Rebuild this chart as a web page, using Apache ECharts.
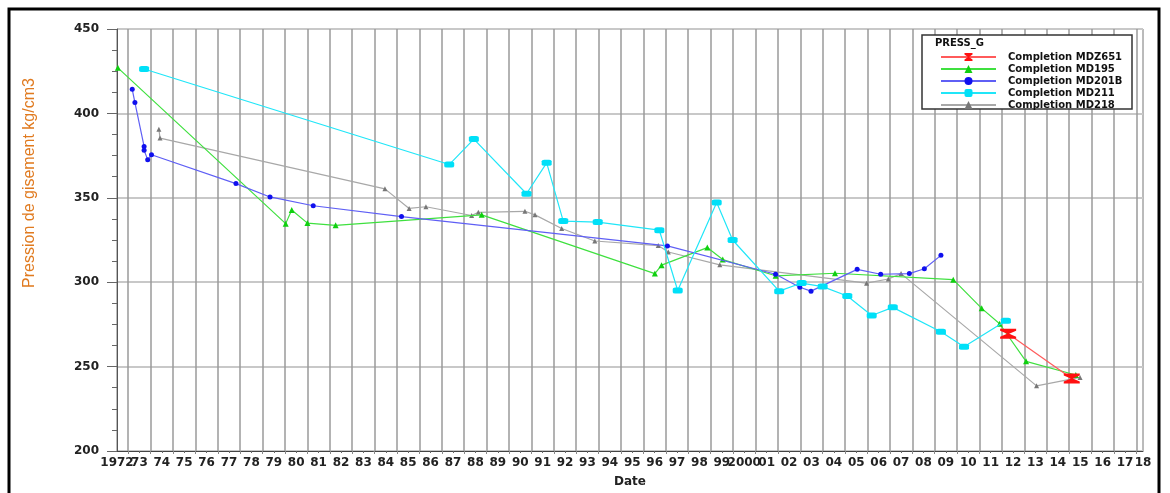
<!DOCTYPE html>
<html>
<head>
<meta charset="utf-8">
<script src="https://cdn.jsdelivr.net/npm/echarts@6/dist/echarts.min.js"></script>
<style>
html,body{margin:0;padding:0;background:#fff;}
#chart{width:1170px;height:493px;}
</style>
</head>
<body>
<div id="chart"></div>
<script>
// ---- data ----
const tickLabels = ["1972","73","74","75","76","77","78","79","80","81","82","83","84","85","86","87","88","89","90","91","92","93","94","95","96","97","98","99","2000","01","02","03","04","05","06","07","08","09","10","11","12","13","14","15","16","17","18"];
const yTicks = [200, 250, 300, 350, 400, 450];

const seriesNames = ["Completion MDZ651","Completion MD195","Completion MD201B","Completion MD211","Completion MD218"];

const mdz651 = [[2012.28, 269.4], [2015.12, 243]];
const md195 = [[1972.54, 427], [1980.03, 334.7], [1980.3, 342.8], [1981.0, 335], [1982.26, 333.7], [1988.78, 339.9], [1996.51, 305.1], [1996.81, 310.1], [1998.85, 320.5], [1999.54, 313.4], [2001.9, 303.8], [2004.55, 305.3], [2009.83, 301.5], [2011.1, 284.5], [2011.9, 275.4], [2013.08, 253.1], [2015.3, 245]];
const md201b = [[1973.18, 414.3], [1973.3, 406.4], [1973.71, 380.4], [1973.71, 378.1], [1973.87, 372.6], [1974.04, 375.5], [1977.81, 358.4], [1979.33, 350.5], [1981.26, 345.3], [1985.2, 338.9], [1997.07, 321.5], [2001.9, 304.7], [2002.98, 297], [2003.48, 294.7], [2005.54, 307.6], [2006.59, 304.7], [2007.87, 305.1], [2008.54, 308], [2009.28, 315.9]];
const md211 = [[1973.71, 426.3], [1987.33, 369.7], [1988.43, 384.8], [1990.78, 352.4], [1991.68, 370.7], [1992.42, 336.2], [1993.96, 335.6], [1996.71, 330.8], [1997.53, 295.1], [1999.27, 347.2], [1999.98, 325], [2002.06, 294.7], [2003.06, 299.5], [2004.0, 297.4], [2005.1, 291.8], [2006.19, 280.3], [2007.13, 285.1], [2009.28, 270.6], [2010.31, 261.7], [2012.18, 277.1]];
const md218 = [[1974.37, 390.6], [1974.42, 385.4], [1984.46, 355.3], [1985.54, 343.7], [1986.29, 344.7], [1988.33, 339.5], [1988.63, 341.4], [1990.71, 342], [1991.16, 339.9], [1992.35, 331.8], [1993.83, 324.4], [1996.66, 321.7], [1997.11, 317.9], [1999.41, 310.3], [2005.96, 299.4], [2006.93, 301.9], [2007.5, 305.1], [2013.55, 238.6], [2015.49, 243.6]];

// ---- axis setup ----
const xMin = 1972.5, xMax = 2018.3;
const gridYears = [];
for (let y = 1973; y <= 2018; y++) gridYears.push(y);
const labelPos = tickLabels.map((_, i) => Math.min(1972.5 + i, xMax));
const midYears = tickLabels.map((_, i) => 1972.5 + i).filter(v => v > xMin && v < xMax);
const labelFmt = v => tickLabels[Math.round(v - 1972.5)];

const chart = echarts.init(document.getElementById('chart'));
const hourglass = 'path://M0,0 L16,0 L16,2 L9,5 L16,8 L16,10 L0,10 L0,8 L7,5 L0,2 Z';

function mk(name, data, lineColor, symColor, symbol, size, z) {
  return {
    name: name, type: 'line', data: data,
    symbol: symbol, symbolSize: size, showSymbol: true,
    lineStyle: {color: lineColor, width: 1.2},
    itemStyle: {color: symColor, borderWidth: 0},
    emphasis: {disabled: true},
    animation: false, z: z
  };
}

const tickFont = {fontFamily: 'DejaVu Sans', fontWeight: 'bold', fontSize: 12, color: '#222'};

chart.setOption({
  animation: false,
  backgroundColor: '#fff',
  grid: {left: 117, right: 27, top: 29, bottom: 32, show: true, borderColor: '#777', borderWidth: 1},
  legend: {
    orient: 'vertical', left: 935, top: 47, itemWidth: 55, itemHeight: 10, itemGap: 2,
    data: seriesNames, z: 20,
    textStyle: {fontFamily: 'DejaVu Sans', fontWeight: 'bold', fontSize: 10, color: '#111', padding: [0, 0, 0, 7]},
    selectedMode: false
  },
  xAxis: [{
    type: 'value', min: xMin, max: xMax,
    name: 'Date', nameLocation: 'middle', nameGap: 25,
    nameTextStyle: {fontFamily: 'DejaVu Sans', fontWeight: 'bold', fontSize: 12, color: '#222'},
    axisLine: {show: true, lineStyle: {color: '#444', width: 1}},
    axisTick: {show: true, customValues: gridYears, length: 3, lineStyle: {color: '#888'}},
    axisLabel: {show: true, customValues: labelPos.slice(1), margin: 6, showMaxLabel: true, ...tickFont, formatter: labelFmt},
    splitLine: {show: true, lineStyle: {color: '#9a9a9a', width: 1.5}}
  }, {
    type: 'value', min: xMin, max: xMax, position: 'bottom',
    axisLine: {show: false},
    axisTick: {show: true, customValues: midYears, length: 2, lineStyle: {color: '#666'}},
    axisLabel: {show: true, customValues: labelPos.slice(0, 1), margin: 6, showMinLabel: true, ...tickFont, formatter: labelFmt},
    splitLine: {show: false}
  }],
  yAxis: {
    type: 'value', min: 200, max: 450, interval: 50,
    axisLine: {show: true, lineStyle: {color: '#555', width: 1}},
    axisTick: {show: true, length: 10, lineStyle: {color: '#666'}},
    minorTick: {show: true, splitNumber: 4, length: 5, lineStyle: {color: '#666'}},
    axisLabel: {margin: 18, ...tickFont, formatter: v => yTicks.includes(v) ? String(v) : ''},
    splitLine: {show: true, lineStyle: {color: '#c8c8c8', width: 2}}
  },
  graphic: [
    {type: 'rect', z: 100, shape: {x: 9, y: 9, width: 1150, height: 492}, style: {fill: 'none', stroke: '#000', lineWidth: 3}},
    {type: 'rect', z: 10, shape: {x: 922, y: 35, width: 210, height: 74}, style: {fill: '#fff', stroke: '#333', lineWidth: 1.5}},
    {type: 'text', z: 11, x: 935, y: 38, style: {text: 'PRESS_G', font: 'bold 10px "DejaVu Sans"', fill: '#111'}},
    {type: 'text', z: 11, x: 30, y: 183, rotation: Math.PI / 2,
      style: {text: 'Pression de gisement kg/cm3', font: '16px "Liberation Sans"', fill: '#e07a1f', align: 'center', verticalAlign: 'middle'}}
  ],
  series: [
    mk(seriesNames[0], mdz651, '#ff5a5a', '#ff1010', hourglass, [16, 10], 6),
    mk(seriesNames[1], md195, '#3fe03f', '#10d010', 'triangle', 6, 3),
    mk(seriesNames[2], md201b, '#5f5ff5', '#1010ee', 'circle', 5, 4),
    mk(seriesNames[3], md211, '#20e6f8', '#00e0f8', 'roundRect', [10, 6], 5),
    mk(seriesNames[4], md218, '#a8a8a8', '#777', 'triangle', 5, 2)
  ]
});
</script>
</body>
</html>
